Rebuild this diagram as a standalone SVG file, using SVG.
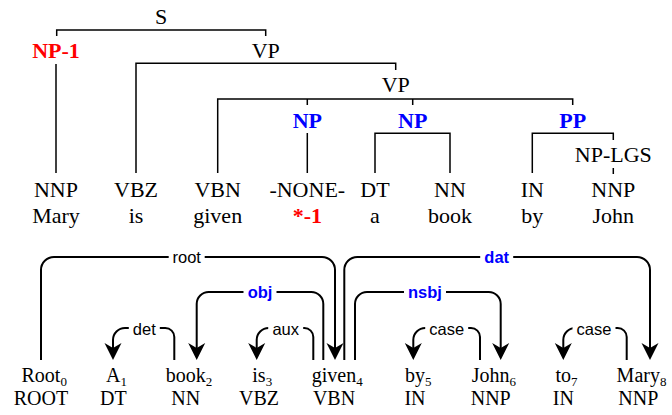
<svg xmlns="http://www.w3.org/2000/svg" width="672" height="415" viewBox="0 0 672 415">
  <defs>
    <style>
      .tree { font-family: "Liberation Serif", "Times New Roman", serif; font-size: 22px; text-anchor: middle; fill: #000; }
      .red { fill: #ff0000; font-weight: bold; }
      .blue { fill: #0000ff; font-weight: bold; }
      .branch { fill: none; stroke: #000; stroke-width: 1.5; }
      .tok { font-family: "Liberation Serif", "Times New Roman", serif; font-size: 20px; fill: #000; }
      .pos { font-family: "Liberation Serif", "Times New Roman", serif; font-size: 20px; text-anchor: middle; fill: #000; }
      .sub { font-size: 13px; }
      .arc { fill: none; stroke: #000; stroke-width: 2; marker-end: url(#head); }
      .lab { font-family: "Liberation Sans", Arial, sans-serif; font-size: 16.5px; text-anchor: middle; fill: #000; }
      .lab.b { fill: #0000ff; font-weight: bold; }
      .gap { fill: #fff; }
    </style>
    <marker id="head" viewBox="-10 -10 25 20" markerWidth="25" markerHeight="20" refX="0" refY="0" orient="auto" markerUnits="userSpaceOnUse">
      <path d="M12,0 L-5,-8.5 L0,0 L-5,8.5 Z" fill="#000"/>
    </marker>
  </defs>

  <!-- constituency tree: branches -->
  <g id="tree-branches">
    <path class="branch" d="M56.7,36 V30 H265.7 V36"/>
    <path class="branch" d="M56,64 V173"/>
    <path class="branch" d="M136,173 V63.3 H395.7 V70"/>
    <path class="branch" d="M217.7,173 V99 H572.7 V105 M307.3,99 V105 M412.7,99 V105"/>
    <path class="branch" d="M307.3,133 V173"/>
    <path class="branch" d="M375,173 V133.3 H450 V173"/>
    <path class="branch" d="M532.3,173 V133.3 H613.3 V140"/>
    <path class="branch" d="M613.3,168 V174"/>
  </g>

  <!-- constituency tree: labels -->
  <g id="n-S"><text class="tree" x="161" y="23.5">S</text></g>
  <g id="n-NP1"><text class="tree red" x="56" y="57.5">NP-1</text></g>
  <g id="n-VP1"><text class="tree" x="265.7" y="57.5">VP</text></g>
  <g id="n-VP2"><text class="tree" x="395.7" y="92">VP</text></g>
  <g id="n-NPa"><text class="tree blue" x="307.3" y="127.5">NP</text></g>
  <g id="n-NPb"><text class="tree blue" x="412.7" y="127.5">NP</text></g>
  <g id="n-PP"><text class="tree blue" x="572.7" y="127.5">PP</text></g>
  <g id="n-NPLGS"><text class="tree" x="613.3" y="161.5">NP-LGS</text></g>

  <g id="leaf-mary"><text class="tree" x="56" y="197">NNP</text><text class="tree" x="56" y="223">Mary</text></g>
  <g id="leaf-is"><text class="tree" x="136" y="197">VBZ</text><text class="tree" x="136" y="223">is</text></g>
  <g id="leaf-given"><text class="tree" x="217.7" y="197">VBN</text><text class="tree" x="217.7" y="223">given</text></g>
  <g id="leaf-trace"><text class="tree" x="307.3" y="197">-NONE-</text><text class="tree red" x="307.3" y="223">*-1</text></g>
  <g id="leaf-a"><text class="tree" x="375" y="197">DT</text><text class="tree" x="375" y="223">a</text></g>
  <g id="leaf-book"><text class="tree" x="450" y="197">NN</text><text class="tree" x="450" y="223">book</text></g>
  <g id="leaf-by"><text class="tree" x="532.3" y="197">IN</text><text class="tree" x="532.3" y="223">by</text></g>
  <g id="leaf-john"><text class="tree" x="613.3" y="197">NNP</text><text class="tree" x="613.3" y="223">John</text></g>

  <!-- dependency arcs -->
  <g id="arcs">
    <path class="arc" d="M41,360 V270 A13,13 0 0 1 54,257 H322 A13,13 0 0 1 335,270 V348"/>
    <path class="arc" d="M344.3,360 V270 A13,13 0 0 1 357.3,257 H637 A13,13 0 0 1 650,270 V348"/>
    <path class="arc" d="M323.3,360 V304 A12,12 0 0 0 311.3,292 H208.7 A12,12 0 0 0 196.7,304 V348"/>
    <path class="arc" d="M355,360 V304 A12,12 0 0 1 367,292 H488.7 A12,12 0 0 1 500.7,304 V348"/>
    <path class="arc" d="M174.3,360 V337 A9,9 0 0 0 165.3,328 H125 A12,12 0 0 0 113,340 V348"/>
    <path class="arc" d="M313.3,360 V337 A9,9 0 0 0 304.3,328 H268.7 A12,12 0 0 0 256.7,340 V348"/>
    <path class="arc" d="M480,360 V337 A9,9 0 0 0 471,328 H425.3 A12,12 0 0 0 413.3,340 V348"/>
    <path class="arc" d="M626.7,360 V337 A9,9 0 0 0 617.7,328 H575.3 A12,12 0 0 0 563.3,340 V348"/>

    <!-- arc labels -->
    <rect class="gap" x="168.7" y="249" width="36" height="16"/>
    <text class="lab" x="186.7" y="263">root</text>
    <rect class="gap" x="480.2" y="249" width="33" height="16"/>
    <text class="lab b" x="496.7" y="263">dat</text>
    <rect class="gap" x="243.5" y="284" width="33" height="16"/>
    <text class="lab b" x="260" y="298">obj</text>
    <rect class="gap" x="404" y="284" width="42" height="16"/>
    <text class="lab b" x="425" y="298">nsbj</text>
    <rect class="gap" x="128.8" y="320" width="31" height="16"/>
    <text class="lab" x="144.3" y="334.5">det</text>
    <rect class="gap" x="268.2" y="320" width="35" height="16"/>
    <text class="lab" x="285.7" y="334.5">aux</text>
    <rect class="gap" x="425.2" y="320" width="43" height="16"/>
    <text class="lab" x="446.7" y="334.5">case</text>
    <rect class="gap" x="572.5" y="320" width="43" height="16"/>
    <text class="lab" x="594" y="334.5">case</text>
  </g>

  <!-- dependency tokens -->
  <g id="t0"><text class="tok" x="21.5" y="382">Root<tspan class="sub" dy="3.5">0</tspan></text><text class="pos" x="41" y="405">ROOT</text></g>
  <g id="t1"><text class="tok" x="106.1" y="382">A<tspan class="sub" dy="3.5">1</tspan></text><text class="pos" x="113.3" y="405">DT</text></g>
  <g id="t2"><text class="tok" x="165.8" y="382">book<tspan class="sub" dy="3.5">2</tspan></text><text class="pos" x="185.8" y="405">NN</text></g>
  <g id="t3"><text class="tok" x="252.3" y="382">is<tspan class="sub" dy="3.5">3</tspan></text><text class="pos" x="259" y="405">VBZ</text></g>
  <g id="t4"><text class="tok" x="311.8" y="382">given<tspan class="sub" dy="3.5">4</tspan></text><text class="pos" x="334" y="405">VBN</text></g>
  <g id="t5"><text class="tok" x="405" y="382">by<tspan class="sub" dy="3.5">5</tspan></text><text class="pos" x="415" y="405">IN</text></g>
  <g id="t6"><text class="tok" x="471.8" y="382">John<tspan class="sub" dy="3.5">6</tspan></text><text class="pos" x="490.7" y="405">NNP</text></g>
  <g id="t7"><text class="tok" x="555.5" y="382">to<tspan class="sub" dy="3.5">7</tspan></text><text class="pos" x="563.3" y="405">IN</text></g>
  <g id="t8"><text class="tok" x="616.6" y="382">Mary<tspan class="sub" dy="3.5">8</tspan></text><text class="pos" x="638.3" y="405">NNP</text></g>
</svg>
